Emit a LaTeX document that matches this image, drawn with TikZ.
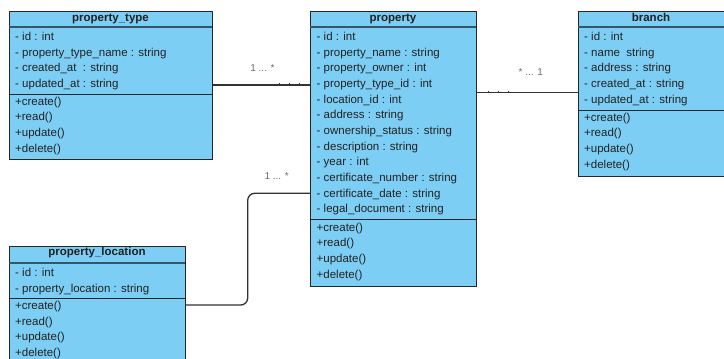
\documentclass[tikz,border=0pt]{standalone}
\usepackage{fontspec}
\setmainfont{Liberation Sans}
\definecolor{boxblue}{RGB}{125,206,245}
\definecolor{txt}{RGB}{34,34,34}
\definecolor{hsepc}{RGB}{55,85,105}
\definecolor{linec}{RGB}{51,51,51}
\definecolor{multc}{RGB}{110,110,110}
\begin{document}
\begin{tikzpicture}[x=1pt,y=-1pt,
  box/.style={draw=black!85, line width=1pt, fill=boxblue, inner sep=0, anchor=north west},
  attr/.style={font=\fontsize{11.5}{13}\selectfont, text=txt, inner sep=0, anchor=west, text height=8.3pt, text depth=2.4pt},
  head/.style={attr, anchor=center, font=\bfseries\fontsize{11.5}{13}\selectfont},
  hsep/.style={draw=hsepc, line width=1.6pt},
  msep/.style={draw=black!85, line width=1pt},
  conn/.style={draw=linec, line width=1.3pt},
  tick/.style={draw=linec, line width=0.8pt},
  mult/.style={font=\fontsize{10}{12}\selectfont, text=multc, inner sep=0}]
\useasboundingbox (0,0) rectangle (724,359);
\clip (0,0) rectangle (724,359);
\fill[white] (0,0) rectangle (724,359);

% ---------- property_type ----------
\node[box, minimum width=203pt, minimum height=148.3pt] (pt) at (9,10.7) {};
\draw[hsep] (9,27) -- (212,27);
\draw[msep] (9,94) -- (212,94);
\node[head] (pth) at (110.5,18.5) {property\_type};
\foreach \t [count=\i] in {- id : int, - property\_type\_name : string, - created\_at~ : string, - updated\_at : string}
  \node[attr] (pta\i) at (15,{37.7+15.66*(\i-1)}) {\t};
\foreach \t [count=\i] in {+create(), +read(), +update(), +delete()}
  \node[attr] (ptm\i) at (15,{102.3+15.6*(\i-1)}) {\t};

% ---------- property ----------
\node[box, minimum width=166pt, minimum height=275pt] (prop) at (310,10.7) {};
\draw[hsep] (310,27) -- (476,27);
\draw[msep] (310,219) -- (476,219);
\node[head] (proph) at (393,18.5) {property};
\foreach \t [count=\i] in {- id : int, - property\_name : string, - property\_owner : int, - property\_type\_id : int, - location\_id : int, - address : string, - ownership\_status : string, - description : string, - year : int, - certificate\_number : string, - certificate\_date : string, - legal\_document : string}
  \node[attr] (propa\i) at (316.5,{37.7+15.66*(\i-1)}) {\t};
\foreach \t [count=\i] in {+create(), +read(), +update(), +delete()}
  \node[attr] (propm\i) at (316.5,{228.3+15.6*(\i-1)}) {\t};

% ---------- branch ----------
\node[box, minimum width=152pt, minimum height=165pt] (br) at (578,10.7) {};
\draw[hsep] (578,27) -- (730,27);
\draw[msep] (578,110) -- (730,110);
\node[head] (brh) at (651,18.5) {branch};
\foreach \t [count=\i] in {- id : int, - name~ string, - address : string, - created\_at : string, - updated\_at : string}
  \node[attr] (bra\i) at (584,{37.7+15.66*(\i-1)}) {\t};
\foreach \t [count=\i] in {+create(), +read(), +update(), +delete()}
  \node[attr] (brm\i) at (584,{118.3+15.6*(\i-1)}) {\t};

% ---------- property_location ----------
\node[box, minimum width=176pt, minimum height=130pt] (pl) at (9,246) {};
\draw[hsep] (9,262.7) -- (185,262.7);
\draw[msep] (9,298) -- (185,298);
\node[head] (plh) at (97,253) {property\_location};
\foreach \t [count=\i] in {- id : int, - property\_location : string}
  \node[attr] (pla\i) at (15,{274+15.4*(\i-1)}) {\t};
\foreach \t [count=\i] in {+create(), +read(), +update(), +delete()}
  \node[attr] (plm\i) at (15,{306.7+15.55*(\i-1)}) {\t};

% ---------- connectors ----------
\coordinate (y1) at (0,85);
\coordinate (y2) at (0,92.7);
\coordinate (y3a) at (0,305);
\coordinate (y3b) at (0,193.3);
\coordinate (k1) at (247.7,305);
\coordinate (k2) at (247.7,193.3);
\draw[conn] (pt.east |- y1) -- (prop.west |- y1);
\draw[conn] (prop.east |- y2) -- (br.west |- y2);
\draw[conn, rounded corners=7pt] (pl.east |- y3a) -- (k1) -- (k2) -- (prop.west |- y3b);
\foreach \x in {279.3,289.3,299.3} \draw[tick] (\x,83.2) -- (\x,85);
\foreach \x in {488.3,498.3,508.3} \draw[tick] (\x,90.9) -- (\x,92.7);

\node[mult] (m1) at (262.5,68) {1 ... *};
\node[mult] (m2) at (530.8,72) {* ... 1};
\node[mult] (m3) at (276.7,176) {1 ... *};
\end{tikzpicture}
\end{document}
